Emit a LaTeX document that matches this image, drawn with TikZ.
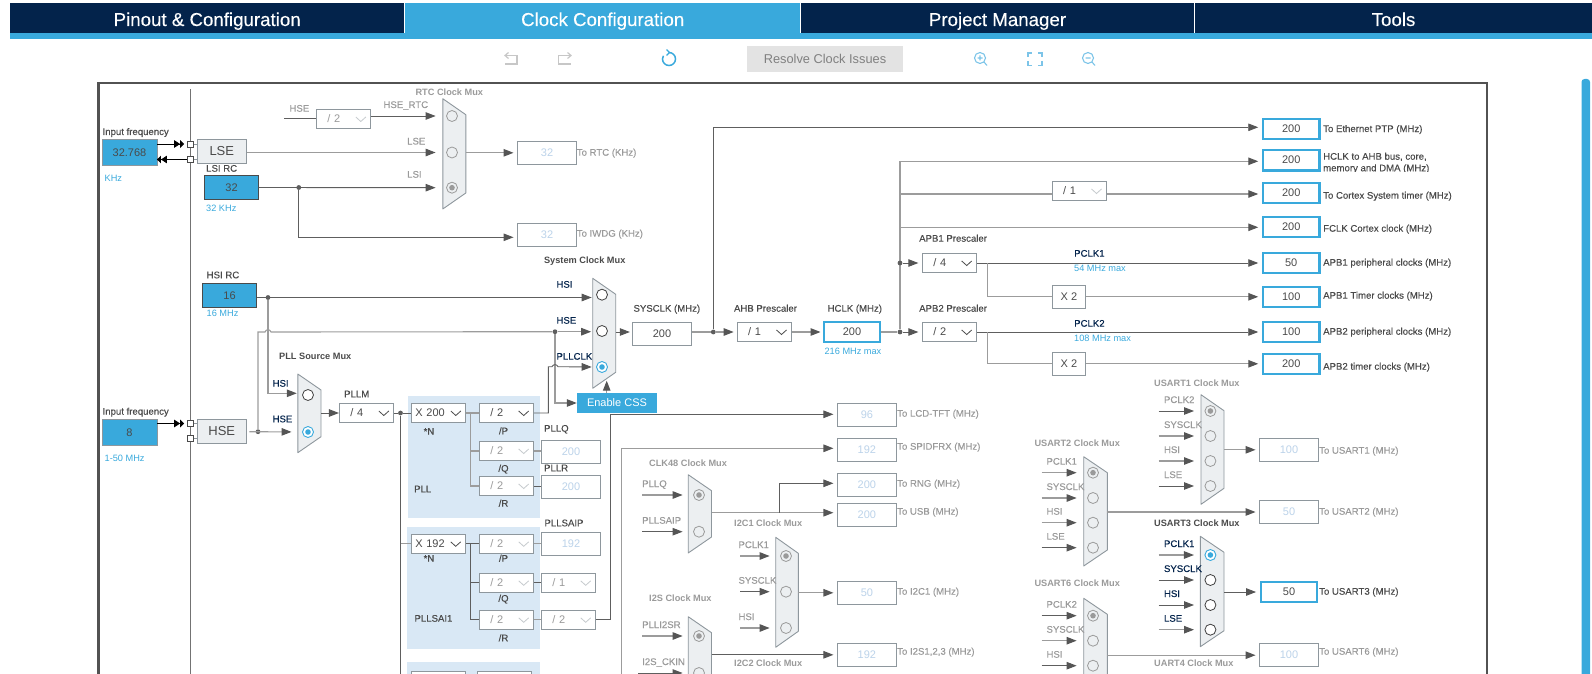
\documentclass[tikz,border=0pt]{standalone}
\usepackage{fontspec}
\setmainfont{Liberation Sans}
\newfontface\softbold[FakeBold=0.2]{Liberation Sans}
\usetikzlibrary{arrows.meta}

\definecolor{navy}{HTML}{03234B}
\definecolor{ublue}{HTML}{39A9DC}
\definecolor{wired}{HTML}{5E5E5E}
\definecolor{wireg}{HTML}{9C9C9C}
\definecolor{tipc}{HTML}{555555}
\definecolor{boxl}{HTML}{8E979D}
\definecolor{muxf}{HTML}{ECEFF1}
\definecolor{panel}{HTML}{D9E8F5}
\definecolor{txtd}{HTML}{4A4A4A}
\definecolor{txtg}{HTML}{9A9A9A}
\definecolor{txtv}{HTML}{BCD3EA}
\definecolor{iconb}{HTML}{7CC4E8}

\newcommand{\fsmall}{\softbold\fontsize{9.6}{11}\selectfont}
\newcommand{\fbold}{\fontsize{9.2}{11}\selectfont\bfseries}
\newcommand{\fval}{\fontsize{11}{13}\selectfont}

\tikzset{
  wire/.style={draw=wired,line width=.9pt},
  wirel/.style={draw=wireg,line width=1.1pt},
  tipped/.style={-{Triangle[length=10pt,width=7.5pt,color=tipc]}},
  arr/.style={wire,tipped,shorten >=3.5pt},
  arrl/.style={wirel,tipped,shorten >=3.5pt},
  pinarr/.style={tipped,shorten >=10.5pt},
  muxb/.style={draw=boxl,fill=muxf,line width=.9pt,line join=round},
  tab/.style={fill=navy,text=white,minimum height=30pt,inner sep=0pt,text height=16pt,text depth=0pt,font=\softbold\fontsize{18.7}{20}\selectfont},
  lbl/.style={anchor=west,inner sep=0pt,text height=7pt,text depth=1pt,font=\fsmall,text=txtd},
  lblg/.style={lbl,text=txtg},
  lbln/.style={lbl,text=navy},
  lblb/.style={lbl,font=\fontsize{9.2}{11}\selectfont,text=ublue},
  mtitle/.style={lbl,font=\fbold},
  mtitleg/.style={lbl,font=\fbold,text=txtg},
  inbox/.style={draw=boxl,fill=ublue,inner sep=0pt,minimum width=54.5pt,minimum height=26pt,font=\fval,text=txtd},
  rcbox/.style={draw=txtd,fill=ublue,inner sep=0pt,minimum width=54pt,minimum height=24pt,font=\fval,text=txtd},
  srcbox/.style={draw=boxl,fill=muxf,line width=.9pt,inner sep=0pt,minimum width=49.5pt,minimum height=24.5pt,font=\fontsize{13}{15}\selectfont,text=txtd},
  sqr/.style={draw=txtd,fill=white,inner sep=0pt,minimum size=6pt,line width=.7pt},
  valbox/.style={draw=boxl,fill=white,line width=.9pt,inner sep=0pt,minimum width=59pt,minimum height=23pt,font=\fval,text=txtv},
  valon/.style={draw=ublue,line width=2.4pt,inner sep=0pt,minimum width=56.5pt,minimum height=20.4pt,font=\fval,text=txtd},
  plain/.style={draw=boxl,line width=.9pt,inner sep=0pt,minimum height=23pt,font=\fval,text=txtd},
  dropb/.style 2 args={draw=boxl,fill=white,line width=.9pt,inner ysep=0pt,inner xsep=11pt,text width=32.4pt,
    align=left,minimum height=19.4pt,font=\fval,text=#1,
    path picture={\draw[#2,line width=.8pt] ([shift={(-15,-2)}]path picture bounding box.east) -- ++(5,4.5) -- ++(5,-4.5);}},
  drop/.style={dropb={txtd}{txtd}},
  dropg/.style={dropb={txtg}{boxl!50}},
  xdrop/.style={drop,inner xsep=4pt,text width=46.4pt},
  dot/.style={circle,fill=wired,inner sep=0pt,minimum size=4.8pt},
  pinoff/.style={circle,draw=txtg,fill=muxf,line width=.8pt,inner sep=0pt,minimum size=11pt},
  pinon/.style={circle,draw=black!75,fill=white,line width=.8pt,inner sep=0pt,minimum size=11pt},
  pingry/.style={pinoff,path picture={\fill[txtg] (path picture bounding box.center) circle (2.8pt);}},
  pinsel/.style={circle,draw=ublue,fill=white,line width=.9pt,inner sep=0pt,minimum size=11pt,
    path picture={\fill[ublue] (path picture bounding box.center) circle (2.8pt);}},
  icong/.style={draw=black!22,line width=1.2pt},
  iconl/.style={draw=iconb,line width=1.1pt}
}

% mux outline: name, left x, right x, top y, bottom y
\newcommand{\muxbody}[5]{%
  \draw[muxb] (#2,#4) -- (#3,#4+16) -- (#3,#5-16) -- (#2,#5) -- cycle;
  \coordinate (#1) at (#3,{(#4+#5)/2});
  \coordinate (#1l) at (#2,{(#4+#5)/2});
}
% mux input: name, line start x, label x, pin x, pin y, text, pin, wire, label
\newcommand{\muxin}[9]{%
  \coordinate (#1s) at (#2,#5);
  \node[#9] (#1t) at (#3,#5-11) {#6};
  \node[#7] (#1) at (#4,#5) {};
  \draw[#8,pinarr] (#1s) -- (#1);
}

\begin{document}
\begin{tikzpicture}[x=1pt,y=-1pt]
\useasboundingbox (0,0) rectangle (1592,674);
\clip (0,0) rectangle (1592,674);

% top bar
\node[tab] (tabpin) at (207.2,18) [minimum width=394.5pt] {Pinout \& Configuration};
\node[tab,fill=ublue] (tabclk) at (602.7,18) [minimum width=394.5pt] {Clock Configuration};
\node[tab] (tabprj) at (997.5,18) [minimum width=393pt] {Project Manager};
\node[tab] (tabtool) at (1393.5,18) [minimum width=397pt] {Tools};
\fill[ublue] (10,33) rectangle (1592,39);

% toolbar
\draw[icong] (508.5,52.5) -- (505,55.5) -- (508.5,58.5);
\draw[icong] (505,55.5) -- (517,55.5) -- (517,64) -- (505,64);
\draw[icong] (567.5,52.5) -- (571,55.5) -- (567.5,58.5);
\draw[icong] (571,55.5) -- (558.5,55.5) -- (558.5,64) -- (571,64);
\draw[draw=ublue,line width=1.5pt] (669,52.5) arc[start angle=-90,end angle=210,radius=6.5];
\draw[draw=ublue,line width=1.2pt] (666.5,49.5) -- (669.5,52.5) -- (666.5,55.5);
\node[fill=black!11,text=black!50,minimum width=156pt,minimum height=26pt,inner sep=0pt,font=\fontsize{12.8}{14}\selectfont] (resolve) at (825,59) {Resolve Clock Issues};
\draw[iconl] (980,58) circle (5.5) (984,62) -- (987,65.5) (977.5,58) -- (982.5,58) (980,55.5) -- (980,60.5);
\draw[iconl] (1028,57) -- (1028,53) -- (1032,53) (1038,53) -- (1042,53) -- (1042,57) (1042,61) -- (1042,65.5) -- (1038,65.5) (1032,65.5) -- (1028,65.5) -- (1028,61);
\draw[iconl] (1088,58) circle (5.5) (1092,62) -- (1095,65.5) (1085.5,58) -- (1090.5,58);
\fill[ublue,rounded corners=3pt] (1581.5,79) rectangle (1590,690);

% frame
\draw[draw=black!68,line width=2.8pt] (98.7,690) -- (98.7,83) -- (1487,83) -- (1487,690);
\draw[draw=black!55,line width=.8pt] (190.5,89) -- (190.5,690);

% pll panels
\fill[panel] (408,396) rectangle (540,518.3);
\fill[panel] (407,527) rectangle (539.5,648.7);
\fill[panel] (407,662.3) rectangle (539.5,690);

% clock sources
\node[lbl] (inlse) at (102.4,132) {Input frequency};
\node[inbox] (lsein) at (129.5,152.3) {32.768};
\node[lblb] (khz) at (104.5,178.7) {KHz};
\node[srcbox] (lse) at (221.8,151.3) {LSE};
\node[sqr] (sqa) at (190.5,144) {};
\node[sqr] (sqb) at (190.5,159.5) {};
\node[lbl] (lsilbl) at (206,168.7) {LSI RC};
\node[rcbox] (lsi) at (231.5,187.5) {32};
\node[lblb] (lsif) at (206,208.3) {32 KHz};
\node[lbl] (hsilbl) at (206.5,275.3) {HSI RC};
\node[rcbox] (hsi) at (229.5,295.3) {16};
\node[lblb] (hsif) at (206.5,313.7) {16 MHz};
\node[lbl] (inhse) at (102.4,411.7) {Input frequency};
\node[inbox] (hsein) at (129.5,432.3) {8};
\node[lblb] (hsefq) at (104.5,458.7) {1-50 MHz};
\node[srcbox] (hse) at (221.8,431.3) {HSE};
\node[sqr] (sqc) at (190.5,423.5) {};
\node[sqr] (sqd) at (190.5,438.3) {};
\draw[draw=black,line width=.9pt,-{Triangle[length=6pt,width=7.5pt]Triangle[length=4pt,width=7.5pt]},shorten >=3pt] (lsein.east |- sqa) -- (sqa);
\draw[draw=black,line width=.9pt,-{Triangle[length=6pt,width=7.5pt]Triangle[length=4pt,width=7.5pt]}] (sqb) -- (lsein.east |- sqb);
\draw[draw=black,line width=.9pt,-{Triangle[length=6pt,width=7.5pt]Triangle[length=4pt,width=7.5pt]},shorten >=3pt] (hsein.east |- sqc) -- (sqc);
\foreach \s/\b in {sqa/lse,sqb/lse,sqc/hse,sqd/hse} {\draw[draw=boxl] (\s) -- (\s -| \b.west);}

% rtc mux
\node[mtitleg] (rtctitle) at (415.4,92.7) {RTC Clock Mux};
\muxbody{rtcmux}{442.8}{465.8}{98.7}{209}
\node[lblg] (rtchse) at (289.3,108.7) {HSE};
\node[dropg] (rtcdiv) at (343.6,119) {/ 2};
\coordinate (rtcs) at (284,118.3);
\draw[wire] (rtcs) -- (rtcs -| rtcdiv.west);
\muxin{rtca}{370.8}{383.3}{452}{116}{HSE\_RTC}{pinoff}{wire}{lblg}
\muxin{rtcb}{246.7}{407}{452}{152.5}{LSE}{pinoff}{wirel}{lblg}
\node[pingry] (rtcc) at (452,187.7) {};
\node[lblg] (rtcct) at (407,174.7) {LSI};
\node[dot] (lsidot) at (298.8,187.5) {};
\draw[wire,pinarr] (lsi.east) -- (rtcc);
\node[valbox] (torc) at (547,152.8) {32};
\node[lblg] (torct) at (576.6,152.7) {To RTC (KHz)};
\node[valbox] (towd) at (547,234.8) {32};
\node[lblg] (towdt) at (576.6,233.7) {To IWDG (KHz)};
\draw[arrl] (rtcmux |- torc) -- (torc.west);
\coordinate (lsic) at (298.8,237.3);
\draw[arr] (lsidot) -- (lsic) -- (lsic -| towd.west);

% system clock mux
\node[mtitle] (systitle) at (543.9,260.7) {System Clock Mux};
\muxbody{sysmux}{592.7}{615.7}{278.3}{388.3}
\node[pinon] (sysa) at (602,294.7) {};
\node[pinon] (sysb) at (602,331) {};
\node[pinsel] (sysc) at (602,367) {};
\node[lbln] (syslh) at (556.3,284.7) {HSI};
\node[lbln] (sysle) at (556.3,320.7) {HSE};
\node[lbln] (syslp) at (556.3,356.7) {PLLCLK};
\node[dot] (hsij) at (268,297.5) {};
\draw[wire,tipped,shorten >=1pt] (hsi.east |- hsij) -- (hsij -| sysmuxl);
\node[dot] (hsebj) at (258,431.7) {};
\coordinate (hsebs) at (249.4,431.7);
\coordinate (hsec) at (258,332);
\node[dot] (hsed) at (555,331.7) {};
\draw[wirel] (hsebj) -- (hsec) -- (265,332) .. controls (266,329) and (270,329) .. (271,332) -- (hsed);
\draw[wirel,tipped,shorten >=1.5pt] (hsed) -- (hsed -| sysmuxl);
\node[fill=ublue,text=white,minimum width=80pt,minimum height=20pt,inner sep=0pt,font=\fval] (cssbtn) at (617,403) {Enable CSS};
\draw[wirel,tipped] (hsed) -- (hsed |- cssbtn) -- (cssbtn.west);
\coordinate (cssa) at (606.7,393);
\coordinate (cssb) at (606.7,380.7);
\draw[wirel,tipped] (cssa) -- (cssb);

% pll source mux and pll
\node[mtitle] (plltitle) at (279,356.7) {PLL Source Mux};
\muxbody{pllmux}{297.8}{321}{374}{452.7}
\node[pinon] (plla) at (308,395) {};
\node[pinsel] (pllb) at (308,432) {};
\node[lbln] (pllh) at (272.4,383.7) {HSI};
\node[lbln] (plle) at (272.4,419.3) {HSE};
\coordinate (hsipl) at (268,393.3);
\draw[wirel,tipped,shorten >=1pt] (hsij) -- (hsipl) -- (hsipl -| pllmuxl);
\draw[wirel,pinarr] (hsebs) -- (pllb);
\node[lbl] (pllmt) at (344,394.3) {PLLM};
\node[drop] (pllm) at (366.6,413) {/ 4};
\draw[wire,tipped] (pllmux |- pllm) -- (pllm.west);
\node[dot] (pdot) at (400.5,413) {};
\draw[wire] (pllm.east) -- (pdot);
\coordinate (pend) at (400.5,690);
\draw[wire] (pdot) -- (pend);

\node[xdrop] (xpll) at (438.6,413) {X 200};
\node[lbl,anchor=center] (xplln) at (429,431.7) {*N};
\node[drop] (pllp) at (506.5,413) {/ 2};
\node[dropg] (pllq) at (506.5,451) {/ 2};
\node[dropg] (pllr) at (506.5,486) {/ 2};
\node[lbl,anchor=center] (pllpt) at (503.5,431.3) {/P};
\node[lbl,anchor=center] (pllqt) at (503.5,468.7) {/Q};
\node[lbl,anchor=center] (pllrt) at (503.5,503.7) {/R};
\node[lbl] (pllname) at (414,489.3) {PLL};
\draw[wire] (pdot) -- (xpll.west);
\draw[wirel] (xpll.east) -- (pllp.west);
\coordinate (plb) at (470.8,413);
\draw[wirel] (plb) -- (plb |- pllr) -- (pllr.west);
\draw[wirel] (plb |- pllq) -- (pllq.west);
\node[lbl] (pllqn) at (543.9,428.7) {PLLQ};
\node[valbox] (pllqv) at (571,451.8) {200};
\node[lbl] (pllrn) at (543.9,468.3) {PLLR};
\node[valbox] (pllrv) at (571,486.8) {200};
\draw[wirel] (pllq.east) -- (pllq.east -| pllqv.west);
\draw[wire] (pllr.east) -- (pllr.east -| pllrv.west);
\coordinate (pckc) at (548.3,413);
\draw[wire,tipped,shorten >=1pt] (pllp.east) -- (pckc) -- (548.3,366.7) -- (552,366.7) .. controls (553,364) and (557,364) .. (558,366.7) -- (sysmuxl |- sysc);

% pll sai1
\coordinate (saiy) at (400.5,543.8);
\node[xdrop] (xsai) at (438.5,543.8) {X 192};
\node[lbl,anchor=center] (xsain) at (429,558.7) {*N};
\node[dropg] (saip) at (506.5,543.8) {/ 2};
\node[dropg] (saiq) at (506.5,582.8) {/ 2};
\node[dropg] (sair) at (506.5,619.8) {/ 2};
\node[lbl,anchor=center] (saipt) at (503.5,558.7) {/P};
\node[lbl,anchor=center] (saiqt) at (503.5,598.7) {/Q};
\node[lbl,anchor=center] (sairt) at (503.5,638.3) {/R};
\node[lbl] (sainame) at (414.3,618.7) {PLLSAI1};
\draw[wirel] (saiy) -- (xsai.west);
\draw[wire] (xsai.east) -- (saip.west);
\coordinate (sab) at (470.7,543.8);
\draw[wire] (sab) -- (sab |- sair) -- (sair.west);
\draw[wire] (sab |- saiq) -- (saiq.west);
\node[lbl] (saipn) at (544.3,523.3) {PLLSAIP};
\node[valbox] (saipv) at (571,543.8) {192};
\node[dropg] (saiqd) at (568.5,582.8) {/ 1};
\node[dropg] (sairdiv) at (568.5,619.8) {/ 2};
\draw[wirel] (saip.east) -- (saipv.west);
\draw[wire] (saiq.east) -- (saiqd.west);
\draw[wirel] (sair.east) -- (sairdiv.west);
\node[valbox] (lcd) at (866.9,414.8) {96};
\coordinate (lcdb) at (610.3,414.3);
\draw[arr] (sairdiv.east) -- (sairdiv.east -| lcdb) -- (lcdb) -- (lcdb -| lcd.west);
\node[lblg] (lcdt) at (897,413.7) {To LCD-TFT (MHz)};

% third pll panel, only its top edge is in view
\node[dropg,minimum height=19.4pt] (sab1) at (438.5,681.4) {};
\node[dropg,minimum height=19.4pt] (sab2) at (504.5,681.4) {};

% spidfrx
\node[valbox] (spi) at (866.9,449.8) {192};
\node[lblg] (spit) at (897,446.7) {To SPIDFRX (MHz)};
\coordinate (spia) at (621.5,690);
\coordinate (spib) at (621.5,448.3);
\draw[arrl] (spia) -- (spib) -- (spib -| spi.west);

% clk48 mux
\node[mtitleg] (c48title) at (649,463.7) {CLK48 Clock Mux};
\muxbody{c48mux}{688.2}{711.5}{474.7}{553}
\muxin{c48a}{642}{642}{699}{495}{PLLQ}{pingry}{wirel}{lblg}
\muxin{c48b}{642}{642}{699}{531.7}{PLLSAIP}{pinoff}{wire}{lblg}
\node[valbox] (rng) at (866.9,484.8) {200};
\node[lblg] (rngt) at (897,483.7) {To RNG (MHz)};
\node[valbox] (usb) at (866.9,514.8) {200};
\node[lblg] (usbt) at (897,511.7) {To USB (MHz)};
\coordinate (c48o) at (779.4,512.7);
\coordinate (c48r) at (779.4,483.3);
\draw[arrl] (c48mux |- c48o) -- (c48o -| usb.west);
\draw[arr] (c48o) -- (c48r) -- (c48r -| rng.west);

% i2c1 mux
\node[mtitleg] (i1title) at (734,523.7) {I2C1 Clock Mux};
\muxbody{i1mux}{775.7}{798.3}{537.3}{647.3}
\foreach \n/\t/\y/\p/\w in {a/PCLK1/556/pingry/wirel,b/SYSCLK/591.7/pinoff/wire,c/HSI/628/pinoff/wirel} {
  \muxin{i1\n}{740}{738.3}{786}{\y}{\t}{\p}{\w}{lblg}
}
\node[valbox] (i2c) at (866.9,592.8) {50};
\node[lblg] (i2ct) at (897,591.7) {To I2C1 (MHz)};
\draw[arrl] (i1mux |- i2c) -- (i2c.west);
\node[mtitleg] (i2title) at (734,663.3) {I2C2 Clock Mux};

% i2s mux, runs past the bottom edge
\node[mtitleg] (istitle) at (649,598.7) {I2S Clock Mux};
\muxbody{ismux}{688.2}{711.5}{616.7}{695}
\muxin{isa}{642}{642}{699}{636}{PLLI2SR}{pingry}{wirel}{lblg}
\muxin{isb}{638}{642}{699}{673}{I2S\_CKIN}{pinoff}{wire}{lblg}
\node[valbox] (i2s) at (866.9,654.8) {192};
\node[lblg] (i2st) at (897,651.7) {To I2S1,2,3 (MHz)};
\draw[arr] (ismux |- i2s) -- (i2s.west);

% sysclk to hclk
\node[lbl] (sysclkt) at (633.3,308.7) {SYSCLK (MHz)};
\node[plain,minimum width=59.4pt] (sysclk) at (662,333.8) {200};
\node[dot] (sysdot) at (713.3,332) {};
\draw[wire,tipped,shorten >=2pt] (sysmux |- sysdot) -- (sysdot -| sysclk.west);
\draw[wirel] (sysdot -| sysclk.east) -- (sysdot);
\node[lbl] (ahbt) at (733.8,308.7) {AHB Prescaler};
\node[drop] (ahb) at (764.3,332) {/ 1};
\draw[arrl,shorten >=3pt] (sysdot) -- (ahb.west);
\node[lbl] (hclkt) at (827.4,308.7) {HCLK (MHz)};
\node[valon] (hclk) at (852,332) {200};
\node[lblb] (hclkm) at (824.4,351.7) {216 MHz max};
\draw[arrl,shorten >=2pt] (ahb.east) -- (hclk.west);
\node[dot] (hdot) at (900,332) {};
\draw[wirel] (hclk.east) -- (hdot);

% right column
\foreach \nm/\y/\v in {outeth/129/200,outhclk/160.2/200,outcortex/193/200,outfclk/227/200,outa/263/50,outb/297/100,outc/332/100,outd/364/200} {
  \node[valon] (\nm) at (1291.2,\y) {\v};
}
\foreach \nm/\y/\t in {outeth/129/To Ethernet PTP (MHz),outcortex/195.7/To Cortex System timer (MHz),outfclk/228.7/FCLK Cortex clock (MHz),outa/262.7/APB1 peripheral clocks (MHz),outb/295.7/APB1 Timer clocks (MHz),outc/331.7/APB2 peripheral clocks (MHz),outd/366.7/APB2 timer clocks (MHz)} {
  \node[lbl] (\nm t) at (1323,\y) {\t};
}
\node[lbl] (hclkta) at (1323,156.7) {HCLK to AHB bus, core,};
\begin{scope}
\clip (1320,150) rectangle (1480,171.5);
\node[lbl] (hclktb) at (1323,168.3) {memory and DMA (MHz)};
\end{scope}
\coordinate (ethy) at (713.3,127.3);
\draw[arr] (sysdot) -- (ethy) -- (ethy -| outeth.west);
\coordinate (hcy) at (900,161.3);
\draw[arrl] (hdot) -- (hcy) -- (hcy -| outhclk.west);
\coordinate (coy) at (900,194);
\node[dropg,draw=boxl,text=txtd] (cortdiv) at (1079.3,191) {/ 1};
\draw[wirel] (coy) -- (coy -| cortdiv.west);
\draw[arrl] (coy -| cortdiv.east) -- (coy -| outcortex.west);
\coordinate (fcy) at (900,227.3);
\draw[arrl] (fcy) -- (fcy -| outfclk.west);

% apb prescalers
\node[lbl] (apb1t) at (919,238.7) {APB1 Prescaler};
\node[drop] (apb1) at (949.5,263) {/ 4};
\node[dot] (a1dot) at (900,263) {};
\draw[arr,wire] (a1dot) -- (apb1.west);
\draw[arr] (apb1.east) -- (apb1.east -| outa.west);
\node[lbln] (pclka) at (1074,253.7) {PCLK1};
\node[lblb] (pclkam) at (1074,268.7) {54 MHz max};
\node[plain,minimum width=33.7pt] (x2a) at (1068.9,296.8) {X 2};
\coordinate (a1br) at (987.3,263);
\draw[wirel] (a1br) -- (a1br |- x2a) -- (x2a.west);
\draw[arrl] (x2a.east) -- (x2a -| outb.west);
\node[lbl] (apb2t) at (919,308.7) {APB2 Prescaler};
\node[drop] (apb2) at (949.5,332) {/ 2};
\draw[arr,wire] (hdot) -- (apb2.west);
\draw[arr] (apb2.east) -- (apb2.east -| outc.west);
\node[lbln] (pclkb) at (1074,323.7) {PCLK2};
\node[lblb] (pclkbm) at (1074,338.7) {108 MHz max};
\node[plain,minimum width=33.7pt] (x2b) at (1068.9,363.8) {X 2};
\coordinate (a2br) at (987.3,332);
\draw[wirel] (a2br) -- (a2br |- x2b) -- (x2b.west);
\draw[arrl] (x2b.east) -- (x2b -| outd.west);

% usart muxes
\node[mtitleg] (u1title) at (1154,383.7) {USART1 Clock Mux};
\muxbody{u1mux}{1201}{1224}{394.7}{504.3}
\foreach \n/\t/\y/\p/\w in {a/PCLK2/411/pingry/wire,b/SYSCLK/436/pinoff/wirel,c/HSI/461/pinoff/wirel,d/LSE/486/pinoff/wire} {
  \muxin{u1\n}{1158.7}{1163.8}{1210.4}{\y}{\t}{\p}{\w}{lblg}
}
\node[valbox] (u1v) at (1289,449.8) {100};
\node[lblg] (u1t) at (1319,450.7) {To USART1 (MHz)};
\draw[arrl] (u1mux |- u1v) -- (u1v.west);

\node[mtitleg] (u2title) at (1034.3,443.7) {USART2 Clock Mux};
\muxbody{u2mux}{1083.7}{1107.3}{456.7}{566}
\foreach \n/\t/\y/\p/\w in {a/PCLK1/472.7/pingry/wirel,b/SYSCLK/498/pinoff/wirel,c/HSI/522.7/pinoff/wirel,d/LSE/547.7/pinoff/wire} {
  \muxin{u2\n}{1041.7}{1046.3}{1093}{\y}{\t}{\p}{\w}{lblg}
}
\node[valbox] (u2v) at (1289,512) {50};
\node[lblg] (u2t) at (1319,511.7) {To USART2 (MHz)};
\draw[arrl] (u2mux |- u2v) -- (u2v.west);

\node[mtitle] (u3title) at (1154,523.7) {USART3 Clock Mux};
\muxbody{u3mux}{1200.3}{1224}{536.3}{646.7}
\foreach \n/\t/\y/\p/\w in {a/PCLK1/555/pinsel/wirel,b/SYSCLK/580/pinon/wire,c/HSI/605/pinon/wire,d/LSE/629.7/pinon/wirel} {
  \muxin{u3\n}{1158.7}{1163.8}{1210.4}{\y}{\t}{\p}{\w}{lbln}
}
\node[valon] (u3v) at (1289,592) {50};
\node[lbl] (u3t) at (1319,591.7) {To USART3 (MHz)};
\draw[arr] (u3mux |- u3v) -- (u3v.west);

\node[mtitleg] (u6title) at (1034.3,583.3) {USART6 Clock Mux};
\muxbody{u6mux}{1083.7}{1107.3}{598.3}{707.6}
\foreach \n/\t/\y/\p/\w in {a/PCLK2/615.7/pingry/wire,b/SYSCLK/640.7/pinoff/wirel,c/HSI/665.7/pinoff/wire} {
  \muxin{u6\n}{1041.7}{1046.3}{1093}{\y}{\t}{\p}{\w}{lblg}
}
\node[valbox] (u6v) at (1289,655.2) {100};
\node[lblg] (u6t) at (1319,651.7) {To USART6 (MHz)};
\draw[arrl] (u6mux |- u6v) -- (u6v.west);
\node[mtitleg] (u4title) at (1154,663.7) {UART4 Clock Mux};
\end{tikzpicture}
\end{document}
